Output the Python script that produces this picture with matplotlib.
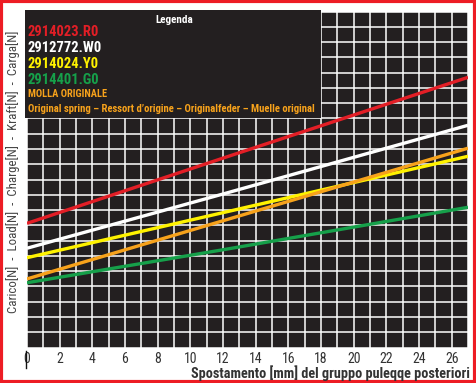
import numpy as np
from matplotlib import pyplot as plt
from matplotlib.patches import Rectangle
from matplotlib.lines import Line2D

# displacement [mm] and load (grid units)
x_mm = [0, 12, 27]
red_load = [8.13, 12.40, 17.69]
white_load = [6.50, 10.05, 14.55]
yellow_load = [5.88, 8.83, 12.52]
orange_load = [4.49, 8.30, 13.05]
green_load = [4.24, 6.40, 9.18]

names = ["2914023.R0", "2912772.W0", "2914024.Y0", "2914401.G0"]
colors = ["#e31e26", "#ffffff", "#fff200", "#16a04a"]
orange = "#f7a21b"

xtick_vals = list(range(0, 28))
xtick_labels = [str(v) if v % 2 == 0 else "" for v in xtick_vals]

FONT = ["Roboto Condensed", "DejaVu Sans"]


def main():
	fig = plt.figure(figsize=(4.76, 3.83), dpi=100)
	fig.patch.set_facecolor("white")

	ax = fig.add_axes([27/476, 35.5/383, 441/476, 336/383])
	ax.set_facecolor("#231f20")
	ax.set_xlim(0, 27)
	ax.set_ylim(0, 22)
	ax.set_xticks(xtick_vals)
	ax.set_xticklabels(xtick_labels, family=FONT, fontsize=10, color="#333333")
	ax.set_yticks(range(0, 23))
	ax.set_yticklabels([])
	ax.tick_params(length=0, pad=3)
	ax.grid(True, color="white", lw=1.1)
	ax.set_axisbelow(True)
	for s in ax.spines.values():
		s.set_visible(False)

	series = [red_load, white_load, yellow_load, orange_load, green_load]
	cols = [colors[0], colors[1], colors[2], orange, colors[3]]
	for ys, c in zip(series, cols):
		ax.plot(x_mm, ys, color=c, lw=2.4, solid_capstyle="butt", zorder=3)

	# legend box over the grid
	ax.add_patch(Rectangle((-0.12, 15.0), 18.12, 7.1, facecolor="#231f20",
		edgecolor="none", zorder=4, clip_on=False))
	ax.text(9.0, 21.44, "Legenda", color="white", fontsize=8, weight="bold",
		family=FONT, ha="center", va="center", zorder=5)
	ys_txt = [20.66, 19.61, 18.55, 17.52]
	for t, c, yy in zip(names, colors, ys_txt):
		ax.text(0.05, yy, t, color=c, fontsize=10.5, weight="bold", family=FONT,
			ha="left", va="center", zorder=5)
	ax.text(0.05, 16.6, "MOLLA ORIGINALE", color=orange, fontsize=7.5, weight="bold",
		family=FONT, ha="left", va="center", zorder=5)
	ax.text(0.05, 15.62, "Original spring \u2013 Ressort d\u2019origine \u2013 Originalfeder \u2013 Muelle original",
		color=orange, fontsize=7.7, weight="bold", family=FONT, ha="left", va="center", zorder=5)

	fig.text(470/476, 1 - 378/383, "Spostamento [mm] del gruppo puleqqe posteriori",
		ha="right", va="baseline", fontsize=10.3, weight="bold", family=FONT, color="#333333")
	fig.text(13/476, 1 - 171.5/383, "Carico[N]  -  Load[N]  -  Charge[N]  -  Kraft[N]  -  Carga[N]",
		rotation=90, ha="center", va="center", fontsize=9.3, family=FONT, color="#444444")

	# little bar in front of the 0
	fig.add_artist(Line2D([26/476, 26/476], [1 - 351/383, 1 - 368/383], color="#111111", lw=1.0))

	# red frame
	fig.add_artist(Rectangle((0.002, 0.003), 0.996, 0.994, transform=fig.transFigure,
		fill=False, edgecolor="#ed1c24", lw=3.0))

	fig.savefig("out.png", dpi=100)


if __name__ == "__main__":
	main()
